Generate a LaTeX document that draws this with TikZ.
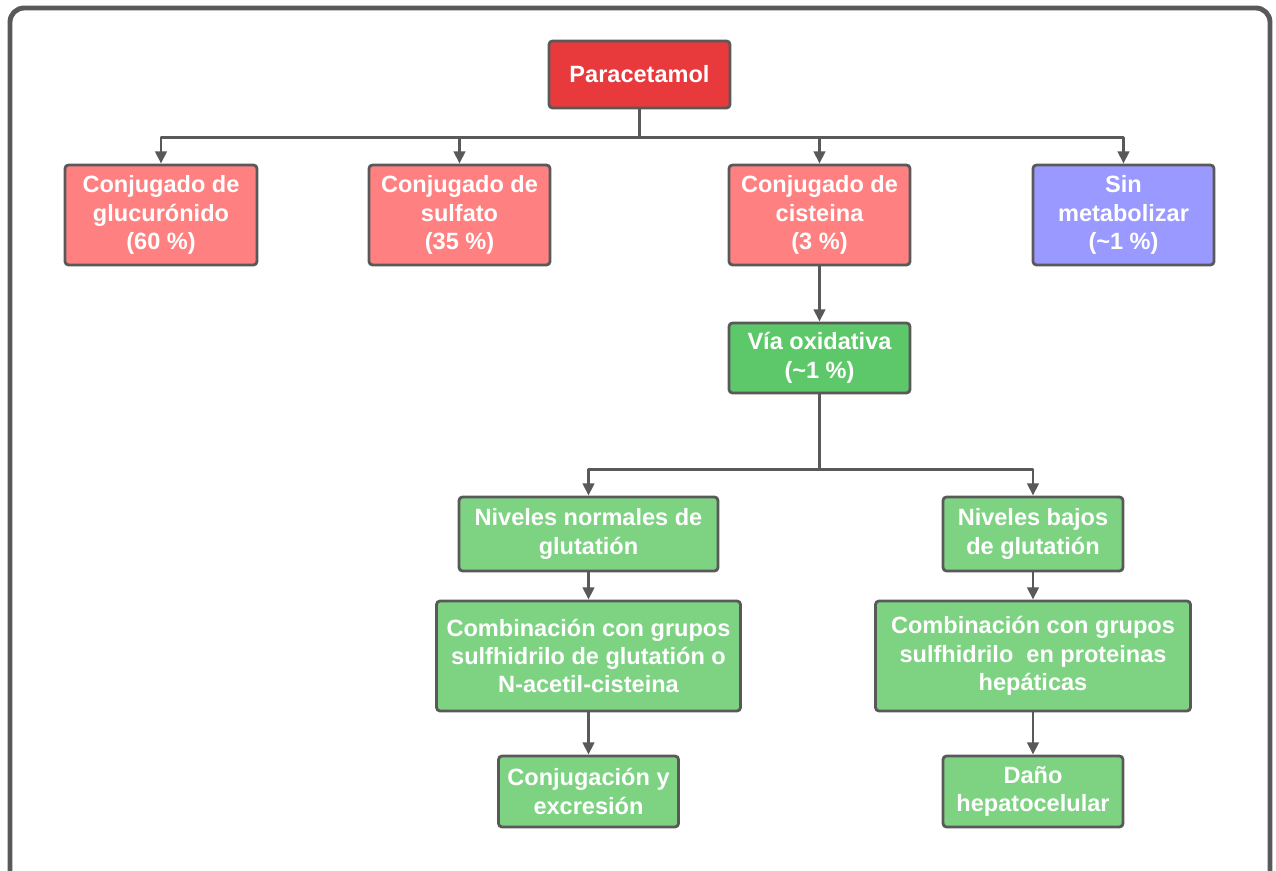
\documentclass[tikz,border=0pt]{standalone}
\usepackage{fontspec}
\setmainfont{Liberation Sans}
\usetikzlibrary{arrows.meta}
\definecolor{lineg}{HTML}{595959}
\definecolor{rojo}{HTML}{E8393C}
\definecolor{rosa}{HTML}{FF8080}
\definecolor{lila}{HTML}{9999FF}
\definecolor{verde}{HTML}{5DC869}
\definecolor{verdec}{HTML}{7ED383}
\tikzset{
	box/.style={draw=lineg, line width=1.6pt, rounded corners=2pt, text=white, align=center,
		inner sep=0pt, font=\bfseries\fontsize{13.4}{16.2}\selectfont},
	bsize/.style 2 args={minimum width=#1*0.02cm, minimum height=#2*0.02cm},
	conn/.style={draw=lineg, line width=1.7pt},
}
\begin{document}
\begin{tikzpicture}[x=0.02cm,y=-0.02cm,>={Triangle[length=7pt,width=6.5pt]}, line join=round]
	\useasboundingbox (0,0) rectangle (1276,870);
	\draw[line width=2.8pt, lineg, rounded corners=8pt] (10,880) -- (10,8) -- (1270,8) -- (1270,880);% marco
	% fila 1 y 2
	\node[box, fill=rojo, bsize={181}{67}] (para) at (639.5,74.5) {Paracetamol};
	\node[box, fill=rosa, bsize={192}{100}] (glu) at (161,215) {Conjugado de\\glucurónido\\(60 \%)};
	\node[box, fill=rosa, bsize={181}{100}] (sulf) at (459.5,215) {Conjugado de\\sulfato\\(35 \%)};
	\node[box, fill=rosa, bsize={181}{100}] (cis) at (819.5,215) {Conjugado de\\cisteina\\(3 \%)};
	\node[box, fill=lila, bsize={181}{100}] (sin) at (1123.5,215) {Sin\\metabolizar\\(\textasciitilde1 \%)};
	\node[box, fill=verde, bsize={181}{70}] (oxi) at (819.5,358) {Vía oxidativa\\(\textasciitilde1 \%)};
	% rama izquierda
	\node[box, fill=verdec, bsize={259}{74}] (nnor) at (588.5,534) {Niveles normales de\\glutatión};
	\node[box, fill=verdec, bsize={304}{110}] (comb1) at (588.5,656) {Combinación con grupos\\sulfhidrilo de glutatión o\\N-acetil-cisteina};
	\node[box, fill=verdec, bsize={180}{71}] (conj) at (588.5,791.5) {Conjugación y\\excresión};
	% rama derecha
	\node[box, fill=verdec, bsize={180}{74}] (nbaj) at (1033,534) {Niveles bajos\\de glutatión};
	\node[box, fill=verdec, bsize={315}{110}] (comb2) at (1033,656) {Combinación con grupos\\sulfhidrilo\ \ en proteinas\\hepáticas};
	\node[box, fill=verdec, bsize={180}{71}] (dano) at (1033,791.5) {Daño\\hepatocelular};
	% conectores
	\coordinate (b1) at (639.5,137);
	\coordinate (b2) at (819.5,469);
	\draw[conn] (para.south) -- (b1);
	\foreach \n in {glu,sulf,cis,sin}{
		\draw[conn,->] (b1) -| (\n.north);
	}
	\draw[conn,->] (cis) -- (oxi);
	\draw[conn] (oxi.south) -- (b2);
	\foreach \n in {nnor,nbaj}{
		\draw[conn,->] (b2) -| (\n.north);
	}
	\draw[conn,->] (nnor) -- (comb1);
	\draw[conn,->] (comb1) -- (conj);
	\draw[conn,->] (nbaj) -- (comb2);
	\draw[conn,->] (comb2) -- (dano);
\end{tikzpicture}
\end{document}
